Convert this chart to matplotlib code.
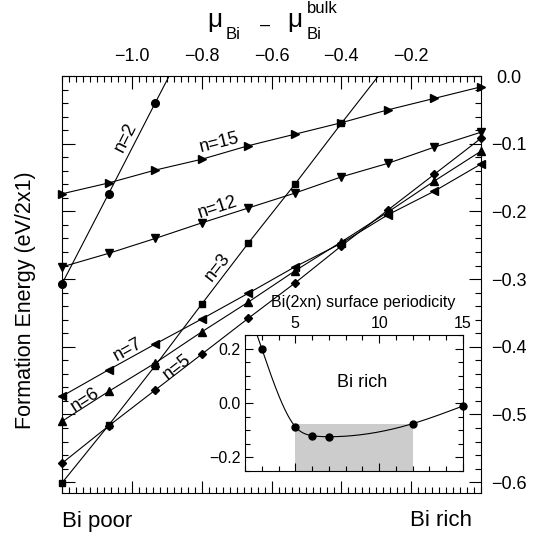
import matplotlib
matplotlib.use("Agg")
import matplotlib.pyplot as plt
import numpy as np
from matplotlib.ticker import MultipleLocator

plt.rcParams['font.family'] = ['Liberation Sans', 'DejaVu Sans']

# chemical potential at the marker positions (Bi poor -> Bi rich)
mu = [-1.2, -1.0667, -0.9333, -0.8, -0.6667, -0.5333, -0.4, -0.2667, -0.1333, 0.0]

# formation energies (eV/2x1)
E_n2 = [-0.307, -0.174, -0.040, 0.093]
E_n3 = [-0.601, -0.516, -0.428, -0.337, -0.247, -0.160, -0.070, 0.018]
E_n5 = [-0.572, -0.517, -0.464, -0.411, -0.358, -0.306, -0.251, -0.198, -0.145, -0.092]
E_n6 = [-0.510, -0.466, -0.424, -0.378, -0.334, -0.288, -0.245, -0.201, -0.155, -0.111]
E_n7 = [-0.473, -0.434, -0.396, -0.359, -0.321, -0.282, -0.247, -0.205, -0.170, -0.130]
E_n12 = [-0.282, -0.262, -0.240, -0.217, -0.195, -0.173, -0.149, -0.129, -0.105, -0.083]
E_n15 = [-0.174, -0.158, -0.139, -0.123, -0.103, -0.086, -0.069, -0.050, -0.033, -0.016]

# inset: energy at Bi rich vs periodicity n
inset_n = [3, 5, 6, 7, 12, 15]
inset_E = [0.20, -0.087, -0.120, -0.124, -0.076, -0.011]
shade_n = (5, 12)

series = [
    (E_n2, 'o', 5.5, 'n=2', -1.018, -0.090, 63),
    (E_n3, 's', 5.0, 'n=3', -0.753, -0.282, 52),
    (E_n5, 'D', 4.0, 'n=5', -0.871, -0.430, 38),
    (E_n6, '^', 5.5, 'n=6', -1.134, -0.479, 33),
    (E_n7, '<', 5.5, 'n=7', -1.011, -0.405, 29),
    (E_n12, 'v', 5.5, 'n=12', -0.753, -0.194, 18),
    (E_n15, '>', 5.5, 'n=15', -0.748, -0.099, 14),
]

ylo, yhi = -0.616, 0.0
W, H = 545.0, 541.0


def natural_spline(x, y, xs):
    x = np.asarray(x, float); y = np.asarray(y, float)
    n = len(x); h = np.diff(x)
    A = np.zeros((n, n)); b = np.zeros(n)
    A[0, 0] = 1; A[-1, -1] = 1
    for i in range(1, n - 1):
        A[i, i - 1] = h[i - 1]
        A[i, i] = 2 * (h[i - 1] + h[i])
        A[i, i + 1] = h[i]
        b[i] = 6 * ((y[i + 1] - y[i]) / h[i] - (y[i] - y[i - 1]) / h[i - 1])
    M = np.linalg.solve(A, b)
    idx = np.clip(np.searchsorted(x, xs) - 1, 0, n - 2)
    x0 = x[idx]; x1 = x[idx + 1]; hh = x1 - x0
    t0 = x1 - xs; t1 = xs - x0
    return (M[idx] * t0**3 / (6 * hh) + M[idx + 1] * t1**3 / (6 * hh)
            + (y[idx] / hh - M[idx] * hh / 6) * t0
            + (y[idx + 1] / hh - M[idx + 1] * hh / 6) * t1)


def ftext(px, py, s, **kw):
    # place text at pixel position (origin top-left)
    fig.text(px / W, 1 - py / H, s, **kw)


fig = plt.figure(figsize=(5.45, 5.41), dpi=100)
ax = fig.add_axes([0.1138, 0.0887, 0.7688, 0.7708])

for E, mk, ms, lab, tx, ty, rot in series:
    xs = np.array(mu[:len(E)]); ys = np.array(E)
    ax.plot(xs, ys, '-', color='black', lw=0.8)
    inside = (ys >= ylo) & (ys <= yhi)
    ax.plot(xs[inside], ys[inside], linestyle='none', marker=mk, ms=ms,
            color='black', clip_on=False, zorder=3)
    ax.text(tx, ty, lab, rotation=rot, fontsize=13, ha='center', va='center',
            rotation_mode='anchor')

ax.set_xlim(-1.2, 0.0)
ax.set_ylim(ylo, yhi)
ax.xaxis.set_major_locator(MultipleLocator(0.2))
ax.xaxis.set_minor_locator(MultipleLocator(0.02))
ax.yaxis.set_major_locator(MultipleLocator(0.1))
ax.yaxis.set_minor_locator(MultipleLocator(0.02))
ax.tick_params(which='both', direction='in', top=True, bottom=True, left=True, right=True,
               labeltop=True, labelbottom=False, labelleft=False, labelright=True,
               labelsize=13, width=0.8)
ax.tick_params(which='major', length=9)
ax.tick_params(which='minor', length=4.5)
ax.tick_params(axis='x', pad=8)
ax.tick_params(axis='y', pad=20)
ax.set_xticks([-1.0, -0.8, -0.6, -0.4, -0.2])
for t in ax.get_yticklabels():
    t.set_ha('center')
for s in ax.spines.values():
    s.set_linewidth(0.8)

# axis titles
ftext(207, 27, '\u03bc', fontsize=19, ha='left', va='baseline')
ftext(226, 39, 'Bi', fontsize=12, ha='left', va='baseline')
ftext(265, 30, '\u2013', fontsize=13, ha='center', va='baseline')
ftext(287, 27, '\u03bc', fontsize=19, ha='left', va='baseline')
ftext(307, 39, 'Bi', fontsize=12, ha='left', va='baseline')
ftext(307, 13, 'bulk', fontsize=12, ha='left', va='baseline')
ftext(26, 300, 'Formation Energy (eV/2x1)', rotation=90, fontsize=15.5,
      ha='center', va='center')
ftext(62, 521, 'Bi poor', fontsize=16, ha='left', va='center')
ftext(472, 521, 'Bi rich', fontsize=16, ha='right', va='center')

# inset
ins = fig.add_axes([0.4495, 0.1294, 0.400, 0.2514])
ins.axvspan(shade_n[0], shade_n[1], ymax=(inset_E[4] + 0.25) / 0.5, color='#cccccc', lw=0)
nn = np.linspace(2, 15, 300)
ins.plot(nn, natural_spline(inset_n, inset_E, nn), color='black', lw=0.8)
ins.plot(inset_n, inset_E, 'o', color='black', ms=5, clip_on=False, zorder=3)
ins.text(9, 0.076, 'Bi rich', fontsize=13, ha='center', va='center')
ins.set_xlim(2, 15)
ins.set_ylim(-0.25, 0.25)
ins.xaxis.set_major_locator(MultipleLocator(5))
ins.xaxis.set_minor_locator(MultipleLocator(1))
ins.yaxis.set_major_locator(MultipleLocator(0.2))
ins.yaxis.set_minor_locator(MultipleLocator(0.05))
ins.tick_params(which='both', direction='in', top=True, bottom=True, left=True, right=True,
                labeltop=True, labelbottom=False, labelsize=11.5, width=0.8, pad=3)
ins.tick_params(which='major', length=6)
ins.tick_params(which='minor', length=3.5)
ins.set_yticks([-0.2, 0.0, 0.2])
ins.set_yticklabels(['\u22120.2', '0.0', '0.2'])
for s in ins.spines.values():
    s.set_linewidth(0.8)
ftext(363, 302, 'Bi(2xn) surface periodicity', fontsize=11.5, ha='center', va='center')

fig.savefig('out.png', dpi=100)
